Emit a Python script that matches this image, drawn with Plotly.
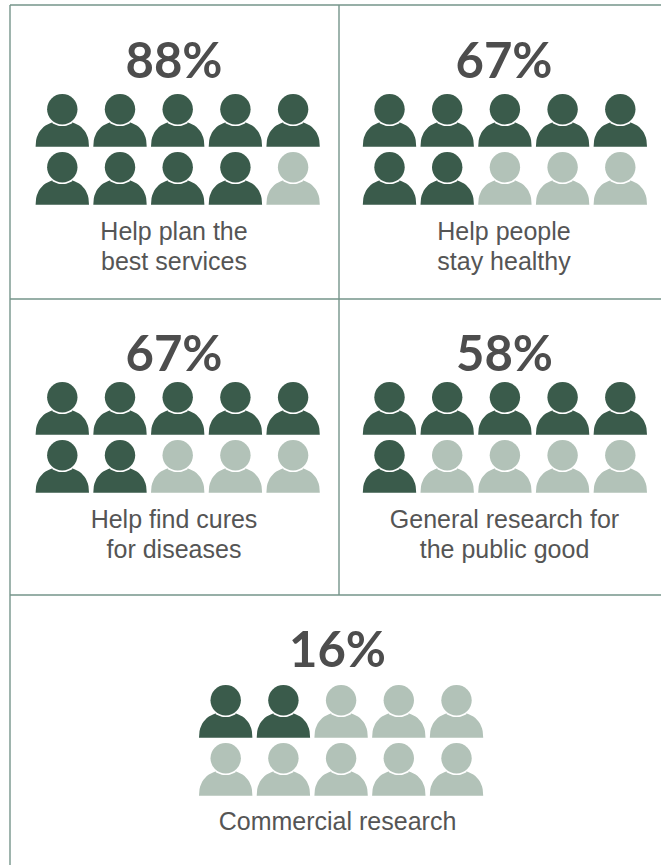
import math
import plotly.graph_objects as go

# Data
label_lines = [["Help plan the", "best services"], ["Help people", "stay healthy"], ["Help find cures", "for diseases"],
               ["General research for", "the public good"], ["Commercial research"]]
percents = [88, 67, 67, 58, 16]
filled_icons = [9, 7, 7, 6, 2]

# Layout in page pixels
W, H = 661, 865
panel_x = [62.3, 389.5, 62.3, 389.5, 225.7]
panel_y = [109, 109, 397, 397, 700]
pct_y = [66, 66, 359, 359, 655]
label_y = [234, 234, 522, 522, 824]
LINE_GAP = 30
center_x = [174, 504, 174, 504.5, 337.5]
COLS, ROWS = 5, 2
DX, DY = 57.7, 58
DARK, LIGHT = "#3a5b4b", "#b2c2b8"
LINE = "#75948a"
TEXT = "#4d4d4d"

def body_outline():
    pts = []
    # left shoulder curve (slightly squared ellipse)
    e = 2 / 2.3
    for i in range(0, 13):
        t = math.pi / 2 * i / 12 * 0.80
        pts.append((-26.7 * math.cos(t) ** e, 37.7 - 25.5 * math.sin(t) ** e))
    # neck arc round the head
    a0 = math.atan2(pts[-1][1], -pts[-1][0])
    for i in range(0, 17):
        t = a0 + (math.pi - 2 * a0) * i / 16
        pts.append((-17.2 * math.cos(t), 17.2 * math.sin(t)))
    for x, y in reversed(pts[:13]):
        pts.append((-x, y))
    return pts

BODY = body_outline()
fig = go.Figure()

# grid lines
grid_x = [10, 10, None, 10, 661, None, 339, 339, None, 10, 661, None, 10, 661]
grid_y = [5, 865, None, 5, 5, None, 5, 595, None, 299, 299, None, 595, 595]
fig.add_trace(go.Scatter(x=grid_x, y=grid_y, mode="lines", line=dict(color=LINE, width=1.4), hoverinfo="skip"))

for dark in (True, False):
    bx, by, hx, hy = [], [], [], []
    for p, n in enumerate(filled_icons):
        for k in range(COLS * ROWS):
            if (k < n) != dark:
                continue
            cx = panel_x[p] + (k % COLS) * DX
            cy = panel_y[p] + (k // COLS) * DY
            hx.append(cx); hy.append(cy + 0.2)
            bx += [cx + a for a, _ in BODY] + [None]
            by += [cy + b for _, b in BODY] + [None]
    col = DARK if dark else LIGHT
    fig.add_trace(go.Scatter(x=bx, y=by, mode="lines", fill="toself", fillcolor=col,
                             line=dict(width=0, color=col), hoverinfo="skip"))
    fig.add_trace(go.Scatter(x=hx, y=hy, mode="markers", hoverinfo="skip",
                             marker=dict(size=30.4, color=col, line=dict(width=0))))

fig.add_trace(go.Scatter(x=center_x, y=pct_y, mode="text", text=[f"{v}%" for v in percents],
                         textposition="middle center", hoverinfo="skip",
                         textfont=dict(family="Lato", size=49, color=TEXT, weight=700)))
lx, ly, lt = [], [], []
for p, lines in enumerate(label_lines):
    for j, s in enumerate(lines):
        lx.append(center_x[p]); ly.append(label_y[p] + j * LINE_GAP); lt.append(s)
fig.add_trace(go.Scatter(x=lx, y=ly, mode="text", text=lt,
                         textposition="middle center", hoverinfo="skip",
                         textfont=dict(family="Liberation Sans", size=25, color="#555555")))

fig.update_layout(width=W, height=H, margin=dict(l=0, r=0, t=0, b=0), showlegend=False,
                  paper_bgcolor="white", plot_bgcolor="white",
                  xaxis=dict(range=[0, W], visible=False, fixedrange=True),
                  yaxis=dict(range=[H, 0], visible=False, fixedrange=True))
fig.write_html("out.html", post_script="document.body.style.margin='0';", config={"displayModeBar": False})
